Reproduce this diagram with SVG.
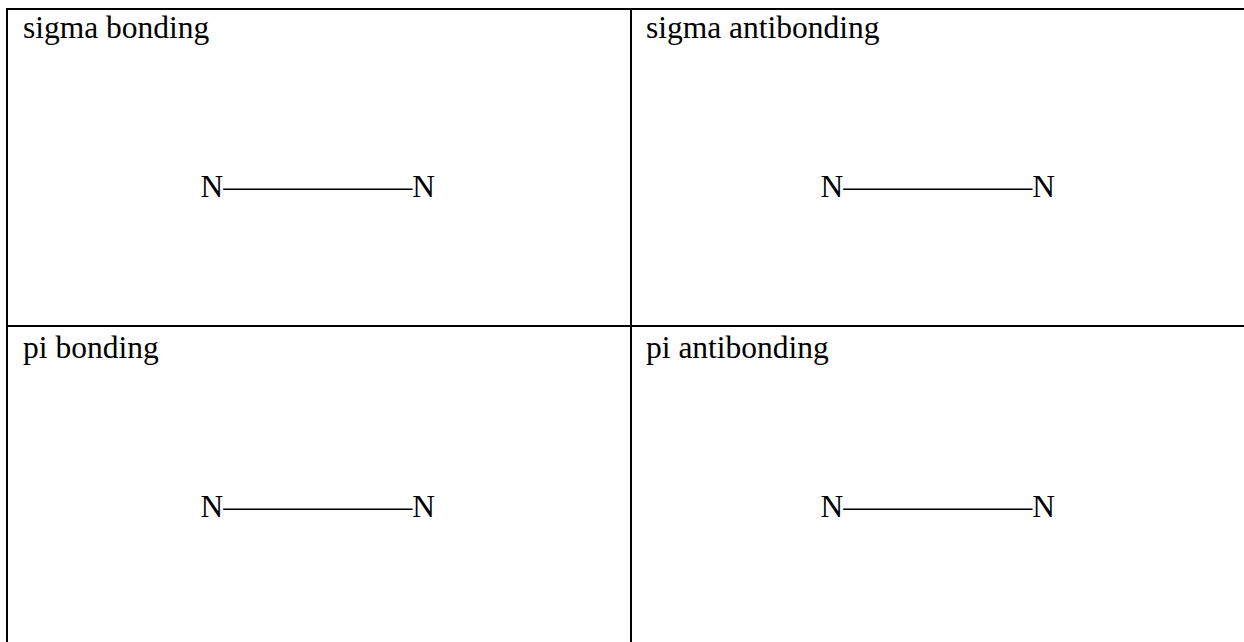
<svg xmlns="http://www.w3.org/2000/svg" width="1244" height="642" viewBox="0 0 1244 642">
<style>
.t{font-family:"Liberation Serif","Times New Roman",serif;font-size:31.5px;fill:#000}
.g{stroke:#000;stroke-width:2;fill:none}
</style>
<rect width="1244" height="642" fill="#fff"/>
<g id="grid" class="g">
<line x1="6" y1="9" x2="1244" y2="9"/>
<line x1="6" y1="326" x2="1244" y2="326"/>
<line x1="7" y1="8" x2="7" y2="642"/>
<line x1="631" y1="8" x2="631" y2="642"/>
</g>
<g id="sigma-bonding">
<text class="t" x="23" y="38">sigma bonding</text>
<text class="t" x="200.5" y="197">N——————N</text>
</g>
<g id="sigma-antibonding">
<text class="t" x="646" y="38">sigma antibonding</text>
<text class="t" x="820.5" y="197">N——————N</text>
</g>
<g id="pi-bonding">
<text class="t" x="23" y="358">pi bonding</text>
<text class="t" x="200.5" y="517">N——————N</text>
</g>
<g id="pi-antibonding">
<text class="t" x="646" y="358">pi antibonding</text>
<text class="t" x="820.5" y="517">N——————N</text>
</g>
</svg>
